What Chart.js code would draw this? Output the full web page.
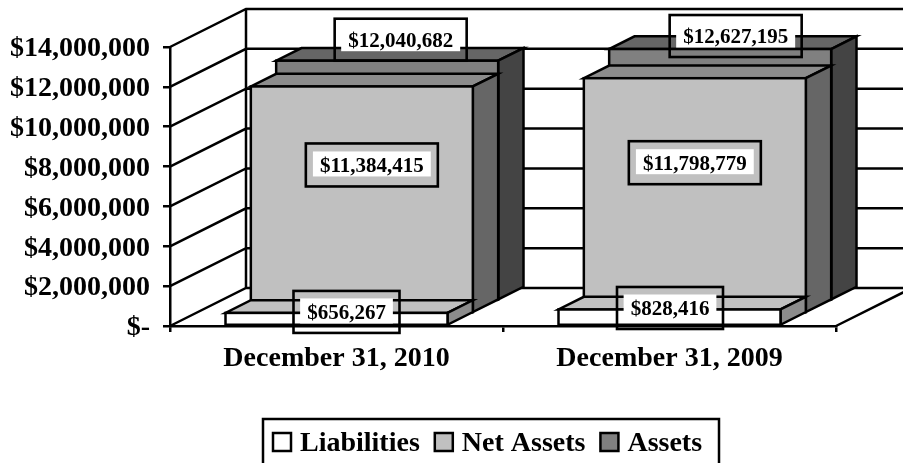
<!DOCTYPE html>
<html>
<head>
<meta charset="utf-8">
<title>Liabilities, Net Assets and Assets</title>
<script src="https://cdn.jsdelivr.net/npm/chart.js@4"></script>
<style>
html,body{margin:0;padding:0;background:#fff;overflow:hidden}
#wrap{position:relative;width:903px;height:463px}
canvas{display:block}
</style>
</head>
<body>
<div id="wrap"><canvas id="c" width="903" height="463"></canvas></div>
<script>
// ---- data ----
const categories = ['December 31, 2010', 'December 31, 2009'];
const liabilities = [656267, 828416];
const netAssets = [11384415, 11798779];
const assets = [12040682, 12627195];
const seriesNames = ['Liabilities', 'Net Assets', 'Assets'];
const yMax = 14000000;
const yStep = 2000000;

// ---- style ----
const FONT = '"Liberation Serif", "Times New Roman", serif';
const frontColors = ['#ffffff', '#c0c0c0', '#808080'];
const topColors = ['#c0c0c0', '#8c8c8c', '#666666'];
const sideColors = ['#8c8c8c', '#666666', '#444444'];
const LINE = 2.5;
const DEPTH_X = 76, DEPTH_Y = -38;          // full depth of the 3D box
const ROW_X = DEPTH_X / 3, ROW_Y = DEPTH_Y / 3; // depth of one series row

// label box: offset of its centre from the front-top-centre of each bar, and size
const labelShift = [
  [[10, -1], [0.5, -1.5]],
  [[10, 78.5], [0, 84.5]],
  [[13.5, -21], [15.5, -13]]
];
const labelBox = [[106, 42], [132, 43], [132, 42]];

const fmt = v => '$' + Math.round(v).toLocaleString('en-US');

function poly(ctx, pts, fill) {
  ctx.beginPath();
  pts.forEach((p, i) => i ? ctx.lineTo(p[0], p[1]) : ctx.moveTo(p[0], p[1]));
  ctx.closePath();
  ctx.fillStyle = fill;
  ctx.fill();
  ctx.stroke();
}

const box3d = {
  id: 'box3d',
  beforeDatasetsDraw(chart) {
    const {ctx, chartArea: a, scales: {y}} = chart;
    ctx.save();
    ctx.strokeStyle = '#000';
    ctx.lineWidth = LINE;
    ctx.lineCap = 'butt';
    ctx.beginPath();
    y.ticks.forEach(t => {
      const py = y.getPixelForValue(t.value);
      ctx.moveTo(a.left, py);
      ctx.lineTo(a.left + DEPTH_X, py + DEPTH_Y);
      ctx.lineTo(a.right + DEPTH_X, py + DEPTH_Y);
    });
    ctx.moveTo(a.left + DEPTH_X, a.top + DEPTH_Y);
    ctx.lineTo(a.left + DEPTH_X, a.bottom + DEPTH_Y);
    ctx.moveTo(a.right, a.bottom);
    ctx.lineTo(a.right + DEPTH_X, a.bottom + DEPTH_Y);
    ctx.stroke();
    ctx.restore();
  },
  beforeDatasetDraw(chart, args) {
    const {ctx} = chart, i = args.index;
    ctx.save();
    ctx.translate(i * ROW_X, i * ROW_Y);
    ctx.strokeStyle = '#000';
    ctx.lineWidth = LINE;
    ctx.lineJoin = 'miter';
    args.meta.data.forEach(el => {
      const x0 = el.x - el.width / 2, x1 = el.x + el.width / 2, yt = el.y, yb = el.base;
      poly(ctx, [[x0, yt], [x1, yt], [x1 + ROW_X, yt + ROW_Y], [x0 + ROW_X, yt + ROW_Y]], topColors[i]);
      poly(ctx, [[x1, yt], [x1 + ROW_X, yt + ROW_Y], [x1 + ROW_X, yb + ROW_Y], [x1, yb]], sideColors[i]);
    });
  },
  afterDatasetDraw(chart, args) {
    const {ctx} = chart;
    args.meta.data.forEach(el => {
      ctx.strokeRect(el.x - el.width / 2, el.y, el.width, el.base - el.y);
    });
    ctx.restore();
  },
  afterDatasetsDraw(chart) {
    const {ctx} = chart;
    ctx.save();
    ctx.font = 'bold 21px ' + FONT;
    ctx.textAlign = 'center';
    ctx.textBaseline = 'alphabetic';
    chart.data.datasets.forEach((ds, i) => {
      chart.getDatasetMeta(i).data.forEach((el, j) => {
        const cx = el.x + i * ROW_X + labelShift[i][j][0];
        const cy = el.y + i * ROW_Y + labelShift[i][j][1];
        const [w, h] = labelBox[i];
        const txt = fmt(ds.data[j]);
        const tw = ctx.measureText(txt).width;
        ctx.fillStyle = '#fff';
        ctx.fillRect(cx - tw / 2 - 7, cy - 13.5, tw + 14, 25);
        ctx.fillStyle = '#000';
        ctx.fillText(txt, cx, cy + 7);
        ctx.strokeStyle = '#000';
        ctx.lineWidth = 2.6;
        ctx.strokeRect(cx - w / 2, cy - h / 2, w, h);
      });
    });
    // legend
    const lx = 263, ly = 419, lw = 456;
    ctx.strokeStyle = '#000';
    ctx.lineWidth = LINE;
    ctx.strokeRect(lx, ly, lw, 60);
    ctx.font = 'bold 28px ' + FONT;
    ctx.textAlign = 'left';
    let x = lx + 10;
    chart.data.datasets.forEach(ds => {
      ctx.fillStyle = ds.backgroundColor;
      ctx.fillRect(x, 433, 18, 18);
      ctx.strokeRect(x, 433, 18, 18);
      ctx.fillStyle = '#000';
      ctx.fillText(ds.label, x + 27, 451);
      x += 27 + ctx.measureText(ds.label).width + 15;
    });
    ctx.restore();
  }
};

const series = [liabilities, netAssets, assets];
new Chart(document.getElementById('c'), {
  type: 'bar',
  data: {
    labels: categories,
    datasets: series.map((data, i) => ({
      label: seriesNames[i],
      data,
      backgroundColor: frontColors[i],
      borderWidth: 0,
      grouped: false,
      barPercentage: 2 / 3,
      categoryPercentage: 1,
      clip: false
    }))
  },
  options: {
    responsive: false,
    animation: false,
    events: [],
    layout: {padding: {left: 0, top: 47, right: 67, bottom: 0}},
    plugins: {legend: {display: false}, tooltip: {enabled: false}, title: {display: false}},
    scales: {
      x: {
        grid: {drawOnChartArea: false, drawTicks: true, tickLength: 6, color: '#000', lineWidth: LINE},
        border: {color: '#000', width: LINE},
        ticks: {color: '#000', font: {family: FONT, size: 28, weight: 'bold'}, maxRotation: 0, autoSkip: false, padding: 10},
        afterFit(s) { s.height = 137; }
      },
      y: {
        min: 0,
        max: yMax,
        grid: {drawOnChartArea: false, drawTicks: true, tickLength: 7, color: '#000', lineWidth: LINE},
        border: {color: '#000', width: LINE},
        ticks: {
          stepSize: yStep,
          color: '#000',
          padding: 13,
          labelOffset: 2,
          font: {family: FONT, size: 28, weight: 'bold'},
          callback: v => v === 0 ? '$-' : fmt(v)
        },
        afterFit(s) { s.width = 170; }
      }
    }
  },
  plugins: [box3d]
});
</script>
</body>
</html>
